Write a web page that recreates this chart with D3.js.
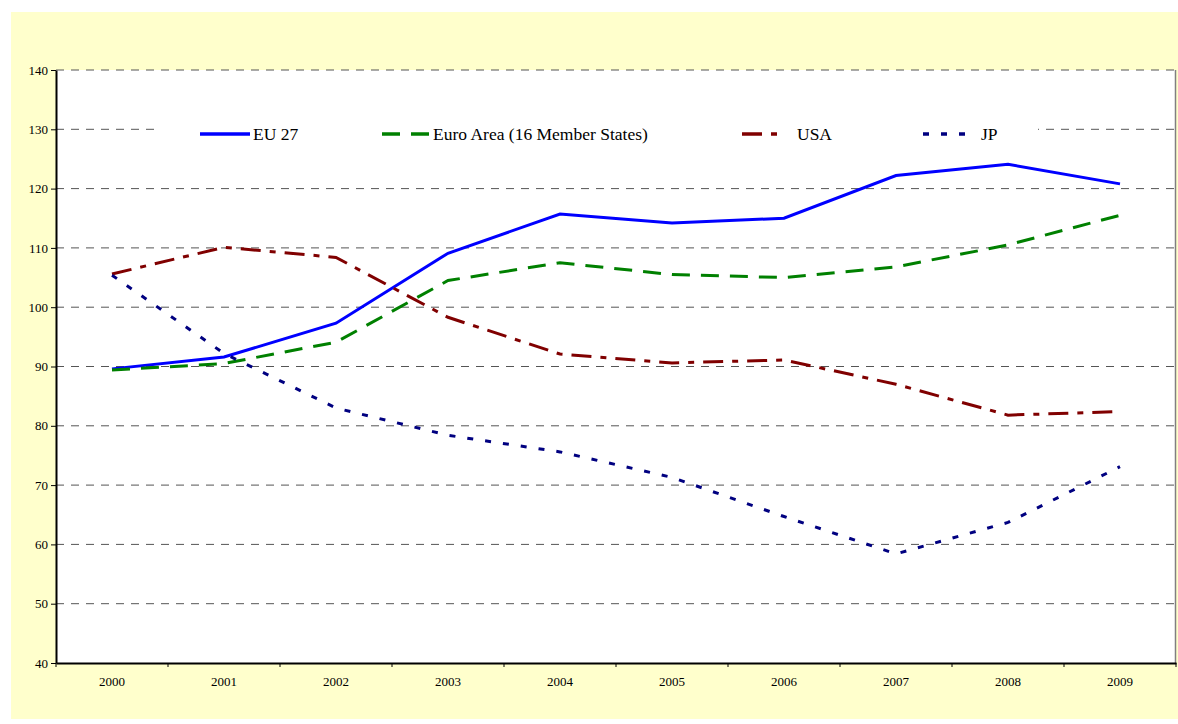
<!DOCTYPE html>
<html>
<head>
  <meta charset="UTF-8">
  <title>Index chart 2000-2009</title>
  <script src="https://d3js.org/d3.v7.min.js"></script>
  <style>
    body {
      margin: 0;
      background: #ffffff;
      font-family: "Liberation Serif", "Times New Roman", serif;
    }
    .grid line {
      stroke: #555;
      stroke-width: 1;
      stroke-dasharray: 8,7;
    }
    .axis text {
      font-family: "Liberation Serif", "Times New Roman", serif;
      font-size: 13px;
      fill: #000;
    }
    .legend text {
      font-size: 17.5px;
      fill: #000;
    }
  </style>
</head>
<body>
  <div id="chart"></div>
  <script>
    const years = ["2000", "2001", "2002", "2003", "2004", "2005", "2006", "2007", "2008", "2009"];
    const eu27 = [89.6, 91.6, 97.3, 109.1, 115.7, 114.2, 115.0, 122.2, 124.1, 120.8];
    const euroArea = [89.4, 90.5, 94.1, 104.5, 107.5, 105.5, 105.0, 106.8, 110.5, 115.5];
    const usa = [105.6, 110.1, 108.4, 98.3, 92.1, 90.6, 91.1, 87.0, 81.8, 82.4];
    const jp = [105.4, 92.2, 83.0, 78.4, 75.6, 71.3, 64.7, 58.4, 63.7, 73.1];
    const yTicks = [40, 50, 60, 70, 80, 90, 100, 110, 120, 130, 140];

    const series = [
      { name: "EU 27", values: eu27, color: "#0000ff", dash: null },
      { name: "Euro Area (16 Member States)", values: euroArea, color: "#008000", dash: "18,11" },
      { name: "USA", values: usa, color: "#800000", dash: "20,9,6,9" },
      { name: "JP", values: jp, color: "#000080", dash: "6,12" }
    ];

    const W = 1178, H = 724;
    const margin = { top: 70, right: 2, bottom: 61, left: 56 };
    const width = W - margin.left - margin.right;
    const height = H - margin.top - margin.bottom;

    const svg = d3.select("#chart")
      .append("svg")
      .attr("width", W)
      .attr("height", H);

    // pale yellow chart area
    svg.append("rect")
      .attr("x", 11).attr("y", 12)
      .attr("width", W - 11).attr("height", 707)
      .attr("fill", "#ffffcc");

    const g = svg.append("g")
      .attr("transform", `translate(${margin.left}, ${margin.top})`);

    g.append("rect")
      .attr("width", width).attr("height", height)
      .attr("fill", "#ffffff");

    const xScale = d3.scaleBand()
      .domain(years)
      .range([0, width])
      .padding(0);

    const yScale = d3.scaleLinear()
      .domain([40, 140])
      .range([height, 0]);

    // gridlines
    g.append("g")
      .attr("class", "grid")
      .selectAll("line")
      .data(yTicks.filter(d => d > 40))
      .enter()
      .append("line")
      .attr("x1", 0).attr("x2", width)
      .attr("y1", d => yScale(d)).attr("y2", d => yScale(d));

    // right border of the plot
    g.append("line")
      .attr("x1", width - 0.5).attr("x2", width - 0.5)
      .attr("y1", 0).attr("y2", height)
      .attr("stroke", "#808080")
      .attr("stroke-width", 1.5);

    // legend background covers the 130 gridline
    g.append("rect")
      .attr("x", 100).attr("y", 45)
      .attr("width", 882).attr("height", 37)
      .attr("fill", "#ffffff");

    const line = d3.line()
      .x((d, i) => xScale(years[i]) + xScale.bandwidth() / 2)
      .y(d => yScale(d));

    g.selectAll(".series")
      .data(series)
      .enter()
      .append("path")
      .attr("class", "series")
      .attr("fill", "none")
      .attr("stroke", d => d.color)
      .attr("stroke-width", 3)
      .attr("stroke-dasharray", d => d.dash)
      .attr("d", d => line(d.values));

    // y axis
    const yAxis = d3.axisLeft(yScale)
      .tickValues(yTicks)
      .tickSize(5)
      .tickSizeOuter(0)
      .tickPadding(3);

    const yG = g.append("g").attr("class", "axis").call(yAxis);
    yG.select(".domain").attr("stroke", "#000").attr("stroke-width", 2);
    yG.selectAll(".tick line").attr("stroke", "#000");

    // x axis: labels centred in bands, tick marks at band edges
    const xAxis = d3.axisBottom(xScale)
      .tickSize(0)
      .tickSizeOuter(0)
      .tickPadding(14);

    const xG = g.append("g")
      .attr("class", "axis")
      .attr("transform", `translate(0, ${height})`)
      .call(xAxis);
    xG.select(".domain").attr("stroke", "#000").attr("stroke-width", 2);

    xG.selectAll(".edge")
      .data(years.map(d => xScale(d)).concat([width]))
      .enter()
      .append("line")
      .attr("class", "edge")
      .attr("x1", d => d).attr("x2", d => d)
      .attr("y1", 0).attr("y2", 4)
      .attr("stroke", "#000");

    // legend
    const legendX = [144, 326, 686, 867];
    const legendW = [50, 48, 41, 44];
    const legend = g.append("g").attr("class", "legend");
    series.forEach((s, i) => {
      const item = legend.append("g")
        .attr("transform", `translate(${legendX[i]}, 64)`);
      item.append("line")
        .attr("x1", 0).attr("x2", legendW[i])
        .attr("y1", 0).attr("y2", 0)
        .attr("stroke", s.color)
        .attr("stroke-width", 3.5)
        .attr("stroke-dasharray", s.dash);
      item.append("text")
        .attr("x", legendW[i] + (i >= 2 ? 14 : 3))
        .attr("y", 6)
        .text(s.name);
    });
  </script>
</body>
</html>
